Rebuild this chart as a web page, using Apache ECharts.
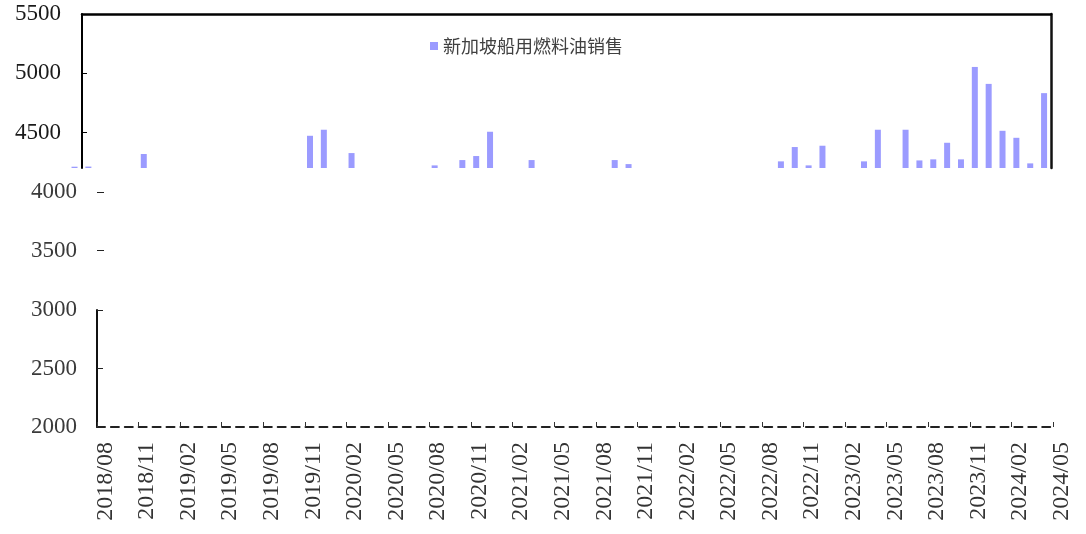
<!DOCTYPE html>
<html>
<head>
<meta charset="utf-8">
<script src="https://cdn.jsdelivr.net/npm/echarts@6/dist/echarts.min.js"></script>
<style>html,body{margin:0;padding:0;background:#fff}#c{width:1086px;height:534px}</style>
</head>
<body>
<div id="c"></div>
<script>
// Months of the bar series (upper panel)
const barMonths = [
 '2018/06','2018/07','2018/08','2018/09','2018/10','2018/11','2018/12',
 '2019/01','2019/02','2019/03','2019/04','2019/05','2019/06','2019/07','2019/08','2019/09','2019/10','2019/11','2019/12',
 '2020/01','2020/02','2020/03','2020/04','2020/05','2020/06','2020/07','2020/08','2020/09','2020/10','2020/11','2020/12',
 '2021/01','2021/02','2021/03','2021/04','2021/05','2021/06','2021/07','2021/08','2021/09','2021/10','2021/11','2021/12',
 '2022/01','2022/02','2022/03','2022/04','2022/05','2022/06','2022/07','2022/08','2022/09','2022/10','2022/11','2022/12',
 '2023/01','2023/02','2023/03','2023/04','2023/05','2023/06','2023/07','2023/08','2023/09','2023/10','2023/11','2023/12',
 '2024/01','2024/02','2024/03','2024/04'
];
// Singapore bunker sales
const bunkerSales = [
 4211,4212,4150,4090,4180,4318,4160,
 4130,3780,4170,4000,4110,4080,4160,4080,4120,4180,4472,4523,
 4150,4326,4190,4180,4130,4070,4120,4222,4060,4267,4301,4506,
 4070,3860,4267,4080,4100,4140,4090,4160,4267,4233,3940,4150,
 4030,3610,4000,3860,3980,4060,4040,4180,4256,4377,4222,4388,
 4140,4000,4256,4523,4190,4523,4264,4273,4413,4273,5053,4910,
 4514,4455,4239,4832
];
// Category axis of the lower panel
const axisMonths = [
 '2018/08','2018/09','2018/10','2018/11','2018/12',
 '2019/01','2019/02','2019/03','2019/04','2019/05','2019/06','2019/07','2019/08','2019/09','2019/10','2019/11','2019/12',
 '2020/01','2020/02','2020/03','2020/04','2020/05','2020/06','2020/07','2020/08','2020/09','2020/10','2020/11','2020/12',
 '2021/01','2021/02','2021/03','2021/04','2021/05','2021/06','2021/07','2021/08','2021/09','2021/10','2021/11','2021/12',
 '2022/01','2022/02','2022/03','2022/04','2022/05','2022/06','2022/07','2022/08','2022/09','2022/10','2022/11','2022/12',
 '2023/01','2023/02','2023/03','2023/04','2023/05','2023/06','2023/07','2023/08','2023/09','2023/10','2023/11','2023/12',
 '2024/01','2024/02','2024/03','2024/04','2024/05'
];
const upperTicks = [4500, 5000];
const upperLabels = [4500, 5000, 5500];
const seriesName = '新加坡船用燃料油销售';

const serif = 'Liberation Serif';
const plain = v => String(v);
const chart = echarts.init(document.getElementById('c'), null, {renderer: 'canvas'});
chart.setOption({
  animation: false,
  backgroundColor: '#fff',
  legend: {
    data: [seriesName], left: 430, top: 37, padding: 0, icon: 'rect', itemWidth: 8, itemHeight: 8,
    textStyle: {fontFamily: 'Noto Sans CJK SC', fontSize: 18, color: '#404040'}
  },
  grid: [
    {left: 82, top: 14, width: 969, height: 154},
    {left: 67.6, top: 14, width: 983.4, height: 154},
    {left: 97, top: 310, width: 956, height: 117},
    {left: 97, top: 192, width: 10, height: 58.7}
  ],
  xAxis: [
    {gridIndex: 0, type: 'value', position: 'top', min: 0, max: 1,
     axisLine: {show: true, lineStyle: {color: '#000', width: 2.5}},
     axisTick: {show: false}, axisLabel: {show: false}, splitLine: {show: false}},
    {gridIndex: 1, type: 'category', data: barMonths, show: false},
    {gridIndex: 2, type: 'category', data: axisMonths, boundaryGap: false, position: 'bottom',
     axisLine: {show: true, lineStyle: {color: '#222', width: 2, type: [8, 5.9]}},
     axisTick: {show: true, inside: true, length: 5, interval: 2, lineStyle: {color: '#333'}},
     axisLabel: {interval: 2, rotate: 90, margin: 15, fontFamily: serif, fontSize: 24, color: '#333',
                 verticalAlign: 'top', lineHeight: 17},
     splitLine: {show: false}},
    {gridIndex: 3, type: 'value', min: 0, max: 1, show: false}
  ],
  yAxis: [
    {gridIndex: 0, type: 'value', position: 'left', min: 4200, max: 5500,
     axisLine: {show: true, lineStyle: {color: '#000', width: 2}},
     axisTick: {show: true, inside: true, length: 5, customValues: upperTicks, lineStyle: {color: '#000'}},
     axisLabel: {customValues: upperLabels, formatter: plain, margin: 21, fontFamily: serif, fontSize: 23, color: '#1a1a1a'},
     splitLine: {show: false}},
    {gridIndex: 0, type: 'value', position: 'right', min: 4200, max: 5500,
     axisLine: {show: true, lineStyle: {color: '#111', width: 2.5}},
     axisTick: {show: false}, axisLabel: {show: false}, splitLine: {show: false}},
    {gridIndex: 1, type: 'value', min: 4200, max: 5500, show: false},
    {gridIndex: 2, type: 'value', min: 2000, max: 3000, interval: 500,
     axisLine: {show: true, lineStyle: {color: '#111', width: 2}},
     axisTick: {show: true, inside: true, length: 6, lineStyle: {color: '#222'}},
     axisLabel: {formatter: plain, margin: 20, fontFamily: serif, fontSize: 23, color: '#3a3a3a'},
     splitLine: {show: false}},
    {gridIndex: 3, type: 'value', min: 3500, max: 4000, interval: 500,
     axisLine: {show: false},
     axisTick: {show: true, inside: true, length: 7, lineStyle: {color: '#222'}},
     axisLabel: {formatter: plain, margin: 20, fontFamily: serif, fontSize: 23, color: '#3a3a3a'},
     splitLine: {show: false}}
  ],
  series: [
    {name: seriesName, type: 'bar', xAxisIndex: 1, yAxisIndex: 2, data: bunkerSales,
     barWidth: 6, clip: true, itemStyle: {color: '#9b9bff'}}
  ]
});
</script>
</body>
</html>
